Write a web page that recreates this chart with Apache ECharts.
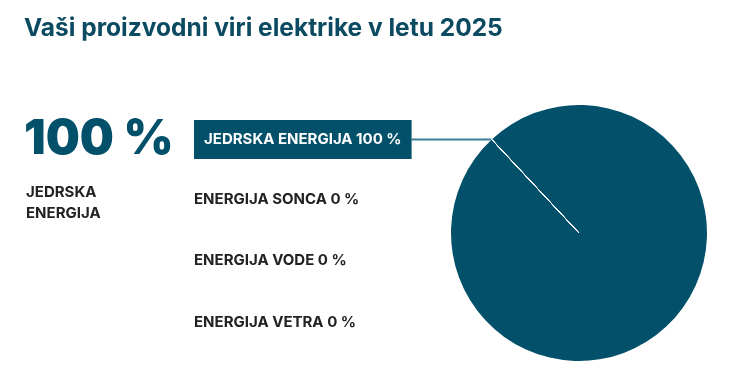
<!DOCTYPE html>
<html>
<head>
<meta charset="utf-8">
<script src="https://cdn.jsdelivr.net/npm/echarts@6/dist/echarts.min.js"></script>
<style>
  html, body { margin: 0; padding: 0; background: #fff; }
  #main { width: 734px; height: 376px; }
</style>
</head>
<body>
<div id="main"></div>
<script>
var sources = ['JEDRSKA ENERGIJA', 'ENERGIJA SONCA', 'ENERGIJA VODE', 'ENERGIJA VETRA'];
var shares = [100, 0, 0, 0];

var FONT = 'Inter';
var TEAL = '#03506b';
var START = 133;
var CX = 579, CY = 233, R = 128;

var total = shares.reduce(function (a, b) { return a + b; }, 0);
var top1 = shares.indexOf(Math.max.apply(null, shares));
var topPct = Math.round(shares[top1] / total * 100);

var pieData = sources.map(function (name, i) {
    var item = { name: name, value: shares[i] };
    if (i === top1) {
        item.itemStyle = { borderWidth: 0 };
        item.label = {
            color: '#fff',
            backgroundColor: TEAL,
            padding: [12, 10, 12, 10]
        };
        item.labelLine = { show: true };
    } else {
        item.labelLine = { show: false };
    }
    return item;
});

var myChart = echarts.init(document.getElementById('main'));
var option = {
    animation: false,
    title: [
        {
            text: 'Vaši proizvodni viri elektrike v letu 2025',
            left: 19, top: 11,
            textStyle: { fontFamily: FONT, fontSize: 24.5, fontWeight: 'bold', color: '#0b4a61' }
        },
        {
            text: topPct + ' %',
            left: 19, top: 111,
            textStyle: { fontFamily: FONT, fontSize: 48, fontWeight: 900, color: TEAL }
        },
        {
            text: sources[top1].replace(' ', '\n'),
            left: 21, top: 177,
            textStyle: { fontFamily: FONT, fontSize: 15, fontWeight: 'bold', color: '#222', lineHeight: 21 }
        }
    ],
    series: [{
        type: 'pie',
        center: [CX, CY],
        radius: R,
        startAngle: START,
        clockwise: true,
        silent: true,
        avoidLabelOverlap: false,
        itemStyle: { color: TEAL, borderColor: '#fff', borderWidth: 1 },
        label: {
            show: true,
            position: 'outside',
            overflow: 'none',
            fontFamily: FONT,
            fontSize: 15,
            fontWeight: 'bold',
            color: '#222',
            formatter: function (p) { return p.name + ' ' + p.value + ' %'; }
        },
        labelLine: {
            lineStyle: { color: '#3d7c96', width: 2 }
        },
        labelLayout: function (p) {
            var i = p.dataIndex;
            var a = START * Math.PI / 180;
            var ex = CX + R * Math.cos(a);
            var ey = CY - R * Math.sin(a);
            var y = i === 0 ? ey : 199.5 + (i - 1) * 61.3;
            var out = { x: 194, y: y, align: 'left', verticalAlign: 'middle' };
            if (i === top1) {
                var right = 194 + p.labelRect.width;
                out.labelLinePoints = [[ex, ey], [ex, ey], [right, ey]];
            }
            return out;
        },
        data: pieData
    }]
};
myChart.setOption(option);
</script>
</body>
</html>
